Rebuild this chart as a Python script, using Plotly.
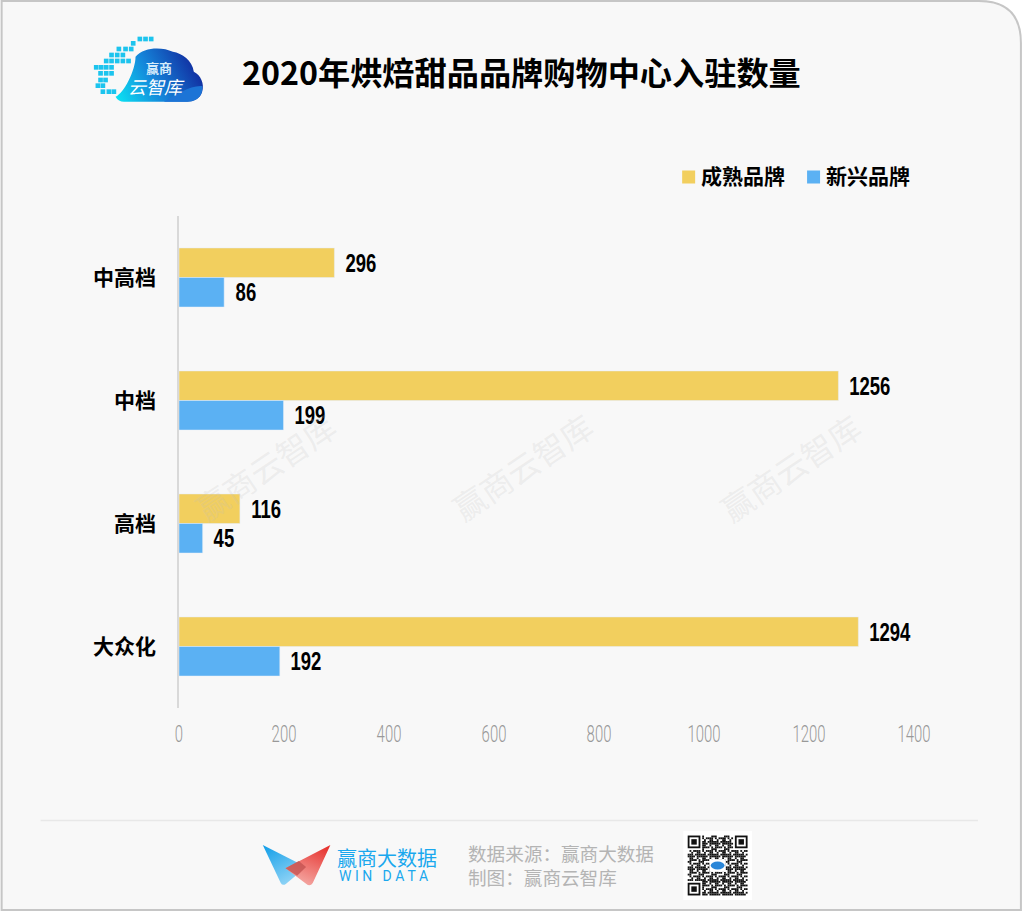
import base64
import plotly.graph_objects as go

categories = ['中高档', '中档', '高档', '大众化']
mature = [296, 1256, 116, 1294]
emerging = [86, 199, 45, 192]
x_ticks = [0, 200, 400, 600, 800, 1000, 1200, 1400]

CJK = 'Noto Sans CJK SC'
YELLOW = '#f2cf5e'
BLUE = '#5bb1f3'

# plot area in page pixels, everything decorative is placed relative to it
L, R, T, B = 178.5, 914, 216, 708
W, H = 1022, 912


def px(x):
    return (x - L) / (R - L)


def py(y):
    return (B - y) / (B - T)


def svg_image(svg, x, y, w, h):
    uri = 'data:image/svg+xml;base64,' + base64.b64encode(svg.encode()).decode()
    return dict(source=uri, xref='paper', yref='paper', x=px(x), y=py(y),
                sizex=w / (R - L), sizey=h / (B - T), xanchor='left', yanchor='top',
                sizing='stretch', layer='above')


def label(text, x, y, size, color='#000', anchor='left', family=CJK, weight=400, angle=0, italic=False):
    return dict(text=text, xref='paper', yref='paper', x=px(x), y=py(y), showarrow=False,
                xanchor=anchor, yanchor='middle', textangle=angle,
                font=dict(family=family, size=size, color=color, weight=weight,
                          style='italic' if italic else 'normal'))


# cloud logo, coordinates are in a 3x grid of the 125x80 box
dots = {27: [163, 180, 197], 40: [143], 57: [100, 120, 137], 75: [78, 95, 112], 93: [62, 78, 95, 112, 129],
        112: [32, 47, 62, 78], 130: [45, 62, 78], 150: [45, 60], 167: [37, 52], 185: [52, 70, 85]}
dot_svg = ''
for yy, xs in dots.items():
    for xx in xs:
        dot_svg += f'<rect x="{xx - 7}" y="{yy - 7}" width="14" height="14" fill="#1cc4ee"/>'
cloud_svg = f'''<svg xmlns="http://www.w3.org/2000/svg" width="375" height="240" viewBox="0 0 375 240">
<defs><linearGradient id="g" gradientUnits="userSpaceOnUse" x1="100" y1="215" x2="340" y2="90">
<stop offset="0" stop-color="#0be0f2"/><stop offset="0.45" stop-color="#1585da"/><stop offset="1" stop-color="#11249a"/></linearGradient></defs>
<path d="M90 200C115 190 150 120 150 80C175 50 230 50 262 65C290 70 320 90 325 125C345 135 358 160 350 185C345 205 325 215 305 215L115 215C105 215 95 210 90 200Z" fill="url(#g)"/>
<path d="M235 215C270 195 315 165 350 168C354 190 340 215 305 215Z" fill="#1c74d6"/>
{dot_svg}</svg>'''

wing_svg = '''<svg xmlns="http://www.w3.org/2000/svg" width="255" height="180" viewBox="0 0 255 180">
<defs><linearGradient id="b" x1="0" y1="0" x2="0.6" y2="1"><stop offset="0" stop-color="#0f9de8"/><stop offset="1" stop-color="#93d5f6"/></linearGradient>
<linearGradient id="r" x1="0.9" y1="0" x2="0.4" y2="1"><stop offset="0" stop-color="#e62f2b"/><stop offset="1" stop-color="#f4a9a4"/></linearGradient></defs>
<path d="M22 30L152 96L92 146Q82 154 76 144Z" fill="url(#b)"/>
<path d="M225 30L172 144Q164 156 152 146L90 100Z" fill="url(#r)"/>
<path d="M90 100L130 78L152 96L125 122Z" fill="#c2504f" opacity="0.75"/></svg>'''

# QR code: finder squares plus a fixed texture, too small to read anyway
qr_rects = ''
n = 33
for qy in range(n):
    for qx in range(n):
        corner = (qx < 8 and qy < 8) or (qx >= n - 8 and qy < 8) or (qx < 8 and qy >= n - 8)
        if not corner and (qx * qx * 3 + qy * qy * 5 + qx * qy) % 7 < 4:
            qr_rects += f'<rect x="{qx}" y="{qy}" width="1" height="1"/>'
for fx, fy in [(0, 0), (n - 7, 0), (0, n - 7)]:
    qr_rects += (f'<rect x="{fx}" y="{fy}" width="7" height="7"/><rect x="{fx + 1}" y="{fy + 1}" width="5" height="5" fill="#fff"/>'
                 f'<rect x="{fx + 2}" y="{fy + 2}" width="3" height="3"/>')
qr_svg = f'''<svg xmlns="http://www.w3.org/2000/svg" width="350" height="350" viewBox="-2.5 -2.5 38 38">
<rect x="-2.5" y="-2.5" width="38" height="38" fill="#fff"/><g fill="#111">{qr_rects}</g>
<rect x="12" y="13" width="9" height="7" fill="#fff"/><ellipse cx="16.5" cy="16.5" rx="3.8" ry="2.2" fill="#2a86d8"/></svg>'''

fig = go.Figure()
fig.add_trace(go.Bar(y=categories, x=mature, name='成熟品牌', orientation='h', marker_color=YELLOW))
fig.add_trace(go.Bar(y=categories, x=emerging, name='新兴品牌', orientation='h', marker_color=BLUE))

annotations = []
for cat, a, b in zip(categories, mature, emerging):
    for val, shift in ((a, 14.75), (b, -14.75)):
        # the narrowing script below squeezes around the text centre, so longer labels start further right
        annotations.append(dict(x=val, y=cat, xref='x', yref='y', text=str(val), showarrow=False,
                                xanchor='left', yanchor='middle', xshift=9 - 1.8 * len(str(val)), yshift=shift,
                                font=dict(family='Liberation Sans', size=25, color='#000', weight=700)))

annotations += [
    label('2020年烘焙甜品品牌购物中心入驻数量', 240, 71, 32.2, weight=700),
    label('成熟品牌', 699, 175, 21, weight=700),
    label('新兴品牌', 824, 175, 21, weight=700),
    label('赢商', 158, 67, 13, color='#d5ecfb', anchor='center', weight=700),
    label('云智库', 156, 86, 18, color='#fff', anchor='center', italic=True),
    label('赢商大数据', 335, 857, 20, color='#1aa8ee'),
    label('W I N\u00a0\u00a0\u00a0D A T A', 337, 876, 14, color='#1aa8ee', family='Roboto'),
    label('数据来源：赢商大数据<br>制图：赢商云智库', 466, 864, 18.6, color='#b4b4b4'),
]
annotations[-1]['align'] = 'left'
for wx, wy in [(265, 466), (522, 466), (790, 467)]:
    annotations.append(label('赢商云智库', wx, wy, 32, color='rgba(190,190,190,0.2)', anchor='center', angle=-34))

shapes = [
    dict(type='path', xref='paper', yref='paper', layer='below', fillcolor='#f8f8f8',
         line=dict(color='#c6c6c6', width=2),
         path=f'M{px(1)},{py(1)} L{px(979)},{py(1)} Q{px(1021)},{py(1)} {px(1021)},{py(43)} '
              f'L{px(1021)},{py(910)} L{px(1)},{py(910)} Z'),
    dict(type='line', xref='paper', yref='paper', layer='below', x0=px(40), x1=px(978), y0=py(820.5), y1=py(820.5),
         line=dict(color='#e8e8e8', width=1.5)),
    dict(type='rect', xref='paper', yref='paper', x0=px(682), x1=px(695), y0=py(170.5), y1=py(183.5),
         fillcolor=YELLOW, line_width=0),
    dict(type='rect', xref='paper', yref='paper', x0=px(807), x1=px(820), y0=py(170.5), y1=py(183.5),
         fillcolor=BLUE, line_width=0),
]

fig.update_layout(
    width=W, height=H,
    margin=dict(l=L, r=W - R, t=T, b=H - B, pad=0),
    paper_bgcolor='#ffffff', plot_bgcolor='rgba(0,0,0,0)',
    barmode='group', bargap=0.52, bargroupgap=0,
    showlegend=False,
    annotations=annotations, shapes=shapes,
    images=[svg_image(cloud_svg, 85, 30, 125, 80),
            svg_image(wing_svg, 255, 835, 85, 60),
            svg_image(qr_svg, 683, 831, 69, 69)],
)
fig.update_xaxes(range=[0, 1400], tickvals=x_ticks, showgrid=False, zeroline=False, showline=False,
                 ticks='', ticklabelstandoff=9,
                 tickfont=dict(family='Roboto', size=24, color='#999999', weight=300))
fig.update_yaxes(autorange='reversed', showgrid=False, zeroline=False, showline=True, linecolor='#d9d9d9',
                 linewidth=1.5, ticks='', ticklabelstandoff=17,
                 tickfont=dict(family=CJK, size=21, color='#000000', weight=700))

# no condensed font is installed, so narrow the number labels in the browser
post = r'''
(function () {
  document.body.style.margin = '0';
  var gd = document.getElementById('{plot_id}');
  function squeeze(el, k) {
    if (el.hasAttribute('textLength')) return;
    el.setAttribute('textLength', el.getComputedTextLength() * k);
    el.setAttribute('lengthAdjust', 'spacingAndGlyphs');
  }
  function run() {
    gd.querySelectorAll('.xtick text').forEach(function (t) { squeeze(t, 0.62); });
    gd.querySelectorAll('.annotation-text').forEach(function (t) {
      if (/^\d+$/.test(t.textContent)) squeeze(t, 0.74);
    });
  }
  run();
  setTimeout(run, 200);
})();
'''
fig.write_html('out.html', post_script=post, config=dict(displayModeBar=False))
